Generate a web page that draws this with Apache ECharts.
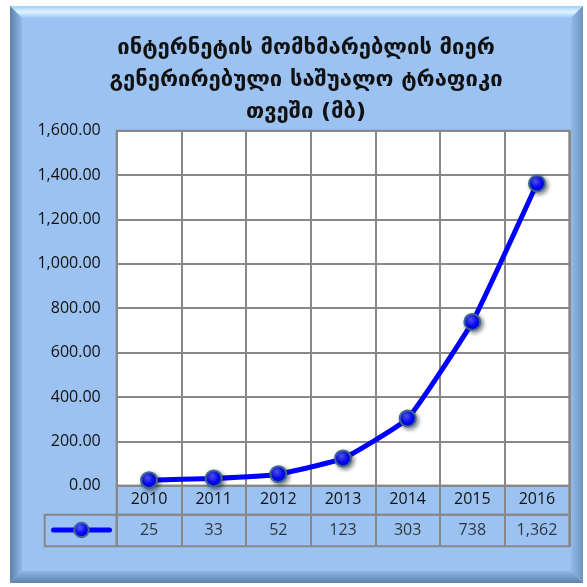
<!DOCTYPE html>
<html>
<head>
<meta charset="utf-8">
<script src="https://cdn.jsdelivr.net/npm/echarts@6/dist/echarts.min.js"></script>
<style>
html,body{margin:0;padding:0;background:#fff;}
#c{width:587px;height:587px;}
</style>
</head>
<body>
<div id="c"></div>
<script>
const titleText = 'ინტერნეტის მომხმარებლის მიერ\nგენერირებული საშუალო ტრაფიკი\nთვეში (მბ)';
const years = ['2010', '2011', '2012', '2013', '2014', '2015', '2016'];
const traffic = [25, 33, 52, 123, 303, 738, 1362];
const yTicks = { min: 0, max: 1600, interval: 200 };

const fmt2 = v => v.toLocaleString('en-US', { minimumFractionDigits: 2, maximumFractionDigits: 2 });
const fmt0 = v => v.toLocaleString('en-US', { maximumFractionDigits: 0 });

const chart = echarts.init(document.getElementById('c'));
const gridColor = '#888888';
const txt = '#111111';
const fontFam = '"Open Sans", "Liberation Sans", sans-serif';

const PL = 116.7, PW = 452.6;

const panelBlue = '#9bc2f0';
const bevel = 12;
const X0 = 10, Y0 = 6, X1 = 583, Y1 = 583;

const markerFill = {
  type: 'radial', x: 0.4, y: 0.35, r: 0.7,
  colorStops: [{ offset: 0, color: '#5c5cff' }, { offset: 0.5, color: '#0a0aff' }, { offset: 1, color: '#0000b8' }]
};

chart.setOption({
  animation: false,
  backgroundColor: '#ffffff',
  graphic: [
    { type: 'rect', z: -10, shape: { x: X0, y: Y0, width: X1 - X0, height: Y1 - Y0 }, style: { fill: panelBlue } },
    { type: 'polygon', z: -9, shape: { points: [[X0, Y0], [X1, Y0], [X1 - bevel, Y0 + bevel], [X0 + bevel, Y0 + bevel]] },
      style: { fill: { type: 'linear', x: 0, y: 0, x2: 0, y2: 1, colorStops: [{ offset: 0, color: '#a6cdf5' }, { offset: 0.5, color: '#dcf4ff' }, { offset: 1, color: '#a0c6f2' }] } } },
    { type: 'polygon', z: -9, shape: { points: [[X0, Y0], [X0 + bevel, Y0 + bevel], [X0 + bevel, Y1 - bevel], [X0, Y1]] },
      style: { fill: { type: 'linear', x: 0, y: 0, x2: 1, y2: 0, colorStops: [{ offset: 0, color: '#5b7fa8' }, { offset: 1, color: '#93bbe9' }] } } },
    { type: 'polygon', z: -9, shape: { points: [[X1, Y0], [X1, Y1], [X1 - bevel, Y1 - bevel], [X1 - bevel, Y0 + bevel]] },
      style: { fill: { type: 'linear', x: 0, y: 0, x2: 1, y2: 0, colorStops: [{ offset: 0, color: '#93bbe9' }, { offset: 1, color: '#6f93bd' }] } } },
    { type: 'polygon', z: -9, shape: { points: [[X0, Y1], [X0 + bevel, Y1 - bevel], [X1 - bevel, Y1 - bevel], [X1, Y1]] },
      style: { fill: { type: 'linear', x: 0, y: 0, x2: 0, y2: 1, colorStops: [{ offset: 0, color: '#8fb6e3' }, { offset: 1, color: '#5f82ab' }] } } },
    { type: 'rect', z: 5, shape: { x: 44.7, y: 514.7, width: PL - 44.7, height: 31.6 }, style: { fill: 'none', stroke: gridColor, lineWidth: 2 } }
  ],
  title: {
    text: titleText,
    left: 301, top: 27, textAlign: 'center',
    textStyle: { fontFamily: '"DejaVu Sans", sans-serif', fontWeight: 'bold', fontSize: 22, lineHeight: 32, color: txt }
  },
  legend: {
    left: 51, top: 521, padding: 0, itemWidth: 56, itemHeight: 18, itemGap: 0,
    formatter: () => '',
    textStyle: { fontSize: 1, padding: 0 },
    lineStyle: { width: 5, cap: 'round' },
    data: ['traffic']
  },
  grid: [
    { left: PL, top: 130.7, width: PW, height: 355, show: true, backgroundColor: '#ffffff', borderColor: gridColor, borderWidth: 2, containLabel: false },
    { left: PL, top: 485.7, width: PW, height: 29, show: true, borderColor: gridColor, borderWidth: 2 },
    { left: PL, top: 514.7, width: PW, height: 31.6, show: true, borderColor: gridColor, borderWidth: 2 }
  ],
  xAxis: [
    { type: 'category', gridIndex: 0, data: years, boundaryGap: true,
      axisLine: { show: true, lineStyle: { color: gridColor, width: 2 } }, axisTick: { show: false },
      splitLine: { show: true, lineStyle: { color: gridColor, width: 2 } },
      axisLabel: { show: true, margin: 6, color: txt, fontFamily: fontFam, fontSize: 16 } },
    { type: 'category', gridIndex: 1, data: years, boundaryGap: true,
      axisLine: { show: false }, axisTick: { show: false }, axisLabel: { show: false },
      splitLine: { show: true, lineStyle: { color: gridColor, width: 2 } } },
    { type: 'category', gridIndex: 2, data: years, boundaryGap: true,
      axisLine: { show: false }, axisTick: { show: false }, axisLabel: { show: false },
      splitLine: { show: true, lineStyle: { color: gridColor, width: 2 } } }
  ],
  yAxis: [
    { type: 'value', gridIndex: 0, min: yTicks.min, max: yTicks.max, interval: yTicks.interval,
      axisLine: { show: false }, axisTick: { show: false },
      splitLine: { show: true, lineStyle: { color: gridColor, width: 2 } },
      axisLabel: { margin: 16, color: txt, fontFamily: fontFam, fontSize: 16, formatter: v => fmt2(v) } },
    { type: 'value', gridIndex: 1, min: 0, max: 1, show: false },
    { type: 'value', gridIndex: 2, min: 0, max: 1, show: false }
  ],
  series: [
    { name: 'traffic', type: 'line', xAxisIndex: 0, yAxisIndex: 0, data: traffic,
      smooth: 0.12, symbol: 'circle', symbolSize: 16, z: 10,
      lineStyle: { color: '#0000ff', width: 5 },
      itemStyle: { color: markerFill, borderColor: '#3b6894', borderWidth: 2,
        shadowBlur: 4, shadowColor: 'rgba(0,0,0,0.45)', shadowOffsetX: 2, shadowOffsetY: 2 } },
    { name: 'tableValues', type: 'scatter', xAxisIndex: 2, yAxisIndex: 2,
      data: traffic.map((v, i) => [i, 0.5, v]), symbolSize: 0, silent: true,
      label: { show: true, position: 'inside', formatter: p => fmt0(p.data[2]), color: txt, fontFamily: fontFam, fontSize: 16 } }
  ]
});
</script>
</body>
</html>
